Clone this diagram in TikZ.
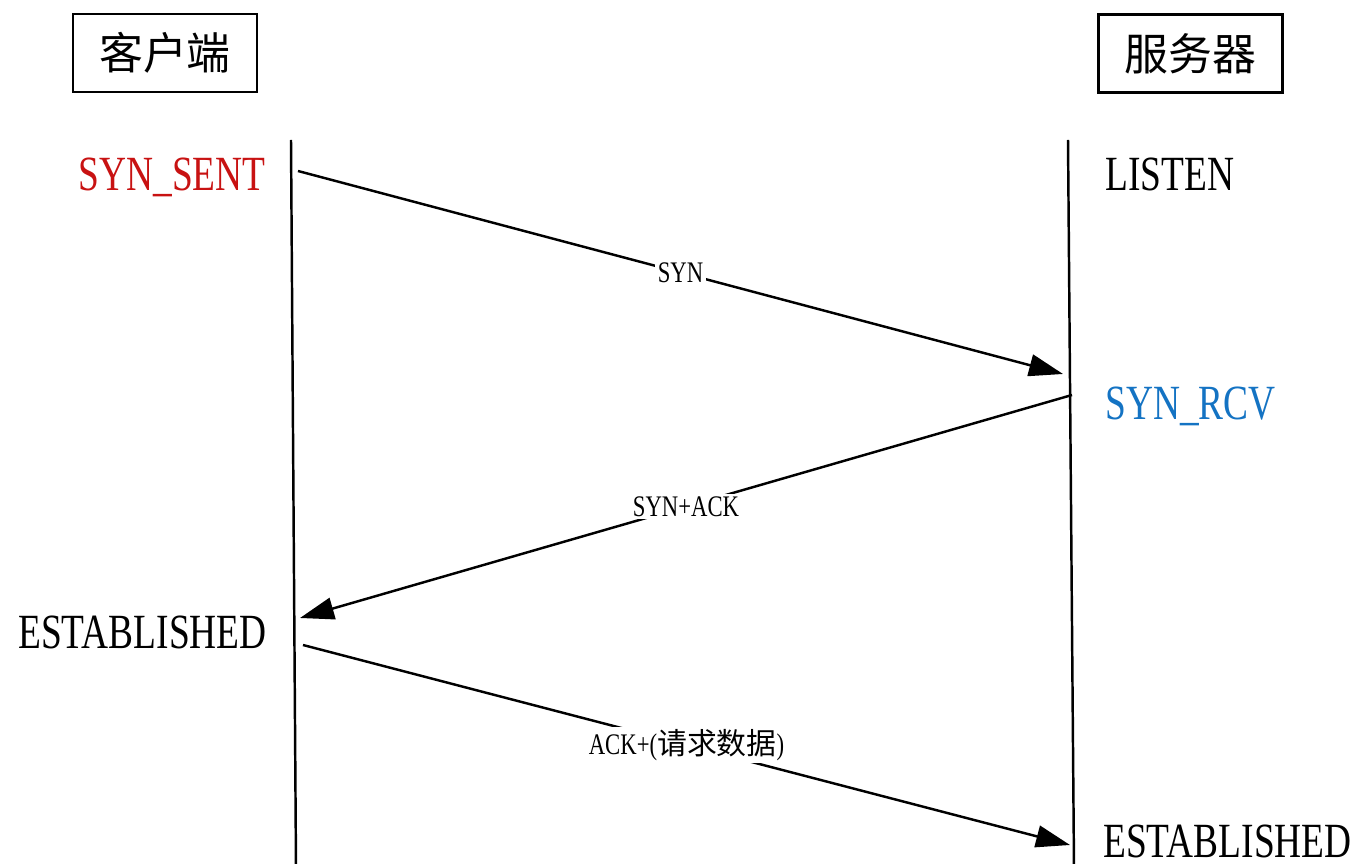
\documentclass[tikz,border=0pt]{standalone}
\usepackage{fontspec}
\setmainfont[FakeStretch=0.76]{Liberation Serif}
\newfontfamily\cjk{Noto Sans CJK SC}
\usetikzlibrary{arrows.meta}
\definecolor{SSred}{RGB}{200, 18, 18}
\definecolor{SRblue}{RGB}{20, 115, 195}
\tikzset{
  host/.style={rectangle, draw=black, line width=1.6pt, minimum width=3.68cm,
    minimum height=1.56cm, font=\cjk\fontsize{25}{30}\selectfont, inner sep=0pt},
  state/.style={font=\fontsize{28}{32}\selectfont, inner sep=0pt},
  life/.style={line width=1.4pt},
  msg/.style={-{Triangle[length=0.68cm, width=0.44cm]}, line width=1.4pt},
  tag/.style={font=\fontsize{17}{20}\selectfont, fill=white, inner sep=1.5pt},
}
\begin{document}
\begin{tikzpicture}[x=0.02cm, y=-0.02cm]
    \useasboundingbox (0,0) rectangle (1362,864);
    \node[host] (client) at (165,53) {客户端};
    \node[host] (server) at (1190.5,53.5) {服务器};
    \coordinate (cTop) at (291,140); \coordinate (cBot) at (296,868);
    \coordinate (sTop) at (1068,140); \coordinate (sBot) at (1074,868);
    \draw[life] (cTop)--(cBot); \draw[life] (sTop)--(sBot);
    \node[state, anchor=base east, text=SSred] (sent) at (266,191) {SYN\_SENT};
    \node[state, anchor=base west] (listen) at (1105,191) {LISTEN};
    \node[state, anchor=base west, text=SRblue] (rcv) at (1105,420) {SYN\_RCV};
    \node[state, anchor=base east] (cEst) at (267,648) {ESTABLISHED};
    \node[state, anchor=base west] (sEst) at (1103,857) {ESTABLISHED};
    \coordinate (c1) at (298,171); \coordinate (s1) at (1063,374);
    \coordinate (s2) at (1072,395); \coordinate (c2) at (300,618);
    \coordinate (c3) at (303,645); \coordinate (s3) at (1070,845);
    \draw[msg] (c1)-- node[tag]{SYN} (s1);
    \draw[msg] (s2)-- node[tag]{SYN+ACK} (c2);
    \draw[msg] (c3)-- node[tag]{ACK+({\cjk 请求数据})} (s3);
  \end{tikzpicture}
\end{document}
